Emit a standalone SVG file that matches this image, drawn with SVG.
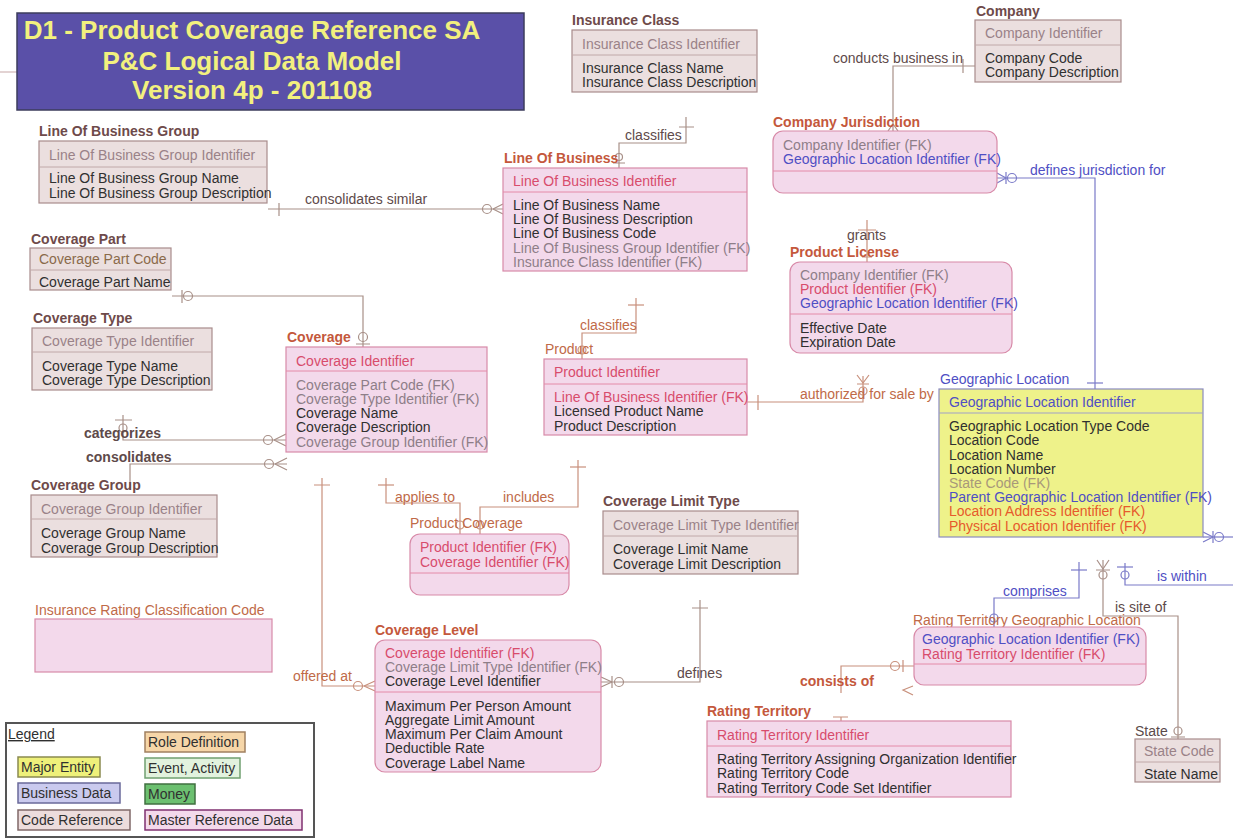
<svg xmlns="http://www.w3.org/2000/svg" width="1233" height="838" viewBox="0 0 1233 838">
<style>
text{font-family:"Liberation Sans",Arial,sans-serif;font-size:14px}
.ttl{font-size:26px;font-weight:bold;fill:#f2f07e}
.cr{fill:#ebdfdf;stroke:#a88c8c;stroke-width:1.2}
.mr{fill:#f3d9eb;stroke:#d88aa8;stroke-width:1.2}
.me{fill:#eef28a;stroke:#8a8ac0;stroke-width:1.2}
.dcr{stroke:#c0a8a8;stroke-width:1}
.dmr{stroke:#e48aa8;stroke-width:1}
.dme{stroke:#a0a0c8;stroke-width:1}
.tcr{fill:#6e4a4a;font-weight:bold}
.tmr{fill:#c4583c;font-weight:bold}
.tmn{fill:#c06a48}
.k{fill:#9a8288}
.a{fill:#303030}
.g{fill:#8e7e88}
.r{fill:#d84c6c}
.b{fill:#4f4fc4}
.o{fill:#e65a2c}
.sc{fill:#a8987a}
.cn{fill:none;stroke:#a89088;stroke-width:1.2}
.cm{fill:none;stroke:#c8907c;stroke-width:1.2}
.cb{fill:none;stroke:#7a7ac8;stroke-width:1.2}
.lb{fill:#5e4a4a}
.lbb{fill:#5e4a4a;font-weight:bold}
.lm{fill:#c06a48}
.lmb{fill:#c4583c;font-weight:bold}
.lbl{fill:#4f4fc4}
.leg{stroke-width:1.5}
.lt{fill:#303030}
</style>

<!-- title block -->
<g id="title">
<line x1="0" y1="72" x2="43" y2="72" stroke="#c8a8a8" stroke-width="1.2"/>
<rect x="17" y="13" width="507" height="97" fill="#5a50a8" stroke="#3c3c5c" stroke-width="1.5"/>
<text class="ttl" x="252" y="39" text-anchor="middle">D1 - Product Coverage Reference SA</text>
<text class="ttl" x="252" y="70" text-anchor="middle">P&amp;C Logical Data Model</text>
<text class="ttl" x="252" y="99" text-anchor="middle">Version 4p - 201108</text>
</g>

<!-- relationships -->
<g id="connectors">
<!-- conducts business in -->
<path class="cn" d="M975,66 H893 V131"/>
<path class="cn" d="M963,59 V73"/>
<path class="cn" d="M888,131 L893,124 L898,131"/>
<text class="lb" x="833" y="63">conducts business in</text>

<!-- defines jurisdiction for -->
<path class="cb" d="M997,178 H1095 V389"/>
<path class="cb" d="M997,173 L1006,178 L997,183 M1006,172 V184"/>
<circle class="cb" cx="1012" cy="178" r="4.5"/>
<path class="cb" d="M1087,383 H1103"/>
<text class="lbl" x="1030" y="175">defines jurisdiction for</text>

<!-- classifies (insurance class) -->
<path class="cn" d="M686,117 V143 H619 V168"/>
<path class="cn" d="M679,127 H694 M613,163 H625"/>
<circle class="cn" cx="619" cy="157" r="3.5"/>
<text class="lb" x="625" y="140">classifies</text>

<!-- consolidates similar -->
<path class="cn" d="M268,209 H503"/>
<path class="cn" d="M279,203 V216 M493,209 L503,204 M493,209 L503,214"/>
<circle class="cn" cx="487" cy="209" r="4.5"/>
<text class="lb" x="305" y="204">consolidates similar</text>

<!-- coverage part to coverage -->
<path class="cn" d="M172,296 H363 V347"/>
<path class="cn" d="M182,290 V303 M356,344 H370"/>
<circle class="cn" cx="188" cy="296" r="4.5"/>
<circle class="cn" cx="363" cy="337" r="4.5"/>

<!-- categorizes -->
<path class="cn" d="M123,415 V440 H286"/>
<path class="cn" d="M115,420 H132 M274,440 L286,434 M274,440 L286,446"/>
<circle class="cn" cx="123" cy="428" r="4"/>
<circle class="cn" cx="268" cy="440" r="4.5"/>
<text class="lbb" x="84" y="438">categorizes</text>

<!-- consolidates -->
<path class="cn" d="M130,490 V464 H287"/>
<path class="cn" d="M275,464 L287,458 M275,464 L287,470"/>
<circle class="cn" cx="269" cy="464" r="4.5"/>
<text class="lbb" x="86" y="462">consolidates</text>

<!-- applies to -->
<path class="cm" d="M386,478 V503 H460 V534"/>
<path class="cm" d="M378,485 H394"/>
<circle class="cm" cx="460" cy="525" r="4"/>
<text class="lm" x="395" y="502">applies to</text>

<!-- includes -->
<path class="cm" d="M578,460 V507 H480 V534"/>
<path class="cm" d="M570,467 H586"/>
<circle class="cm" cx="480" cy="525" r="4"/>
<text class="lm" x="503" y="502">includes</text>

<!-- classifies (line of business) -->
<path class="cm" d="M636,298 V333 H582 V359"/>
<path class="cm" d="M628,305 H644"/>
<circle class="cm" cx="582" cy="350" r="4"/>
<text class="lm" x="580" y="330">classifies</text>

<!-- grants -->
<path class="cm" d="M867,220 V262"/>
<path class="cm" d="M858,230 H876 M862,257 H872"/>
<text class="lb" x="847" y="240">grants</text>

<!-- authorized for sale by -->
<path class="cm" d="M747,402 H863 V376"/>
<path class="cm" d="M758,395 V410 M863,383 L857,375 M863,383 L869,375 M857,384 H869"/>
<circle class="cm" cx="863" cy="391" r="4"/>
<text class="lm" x="800" y="399">authorized for sale by</text>

<!-- is within -->
<path class="cb" d="M1203,537 H1233"/>
<path class="cb" d="M1213,537 L1203,532 M1213,537 L1203,542 M1213,531 V543"/>
<circle class="cb" cx="1219" cy="537" r="4.5"/>
<path class="cb" d="M1233,585 H1125 V563"/>
<path class="cb" d="M1117,567 H1133"/>
<circle class="cb" cx="1125" cy="575" r="4"/>
<text class="lbl" x="1157" y="581">is within</text>

<!-- comprises -->
<path class="cb" d="M1079,562 V598 H994 V627"/>
<path class="cb" d="M1071,570 H1087"/>
<circle class="cb" cx="994" cy="618" r="4"/>
<text class="lbl" x="1003" y="596">comprises</text>

<!-- is site of -->
<path class="cn" d="M1103,560 V616 H1178 V739"/>
<path class="cn" d="M1103,569 L1097,560 M1103,569 L1109,560 M1096,570 H1110 M1171,737 H1185"/>
<circle class="cn" cx="1103" cy="575" r="4"/>
<circle class="cn" cx="1178" cy="731" r="4"/>
<text class="lb" x="1115" y="612">is site of</text>

<!-- consists of -->
<path class="cm" d="M841,693 V666 H914"/>
<path class="cm" d="M903,660 V672 M913,686 L903,690 L913,695"/>
<circle class="cm" cx="895" cy="666" r="4.5"/>
<path class="cm" d="M833,717 H848 M841,717 V721"/>
<text class="lmb" x="800" y="686">consists of</text>

<!-- defines -->
<path class="cn" d="M700,600 V682 H601"/>
<path class="cn" d="M692,608 H708 M612,682 L601,677 M612,682 L601,687 M612,676 V688"/>
<circle class="cn" cx="619" cy="682" r="4.5"/>
<text class="lb" x="677" y="678">defines</text>

<!-- offered at -->
<path class="cm" d="M322,478 V686 H375"/>
<path class="cm" d="M314,485 H330 M364,686 L375,681 M364,686 L375,691"/>
<circle class="cm" cx="358" cy="686" r="4.5"/>
<text class="lm" x="293" y="681">offered at</text>
</g>

<g id="insurance-class">
<text class="tcr" x="572" y="25">Insurance Class</text>
<rect class="cr" x="572" y="30" width="185" height="62"/>
<line class="dcr" x1="572" y1="55" x2="757" y2="55"/>
<text class="k" x="582" y="49">Insurance Class Identifier</text>
<text class="a" x="582" y="73">Insurance Class Name</text>
<text class="a" x="582" y="87">Insurance Class Description</text>
</g>

<g id="company">
<text class="tcr" x="976" y="16">Company</text>
<rect class="cr" x="975" y="20" width="146" height="62"/>
<line class="dcr" x1="975" y1="45" x2="1121" y2="45"/>
<text class="k" x="985" y="38">Company Identifier</text>
<text class="a" x="985" y="63">Company Code</text>
<text class="a" x="985" y="77">Company Description</text>
</g>

<g id="line-of-business-group">
<text class="tcr" x="39" y="136">Line Of Business Group</text>
<rect class="cr" x="39" y="141" width="228" height="62"/>
<line class="dcr" x1="39" y1="167" x2="267" y2="167"/>
<text class="k" x="49" y="160">Line Of Business Group Identifier</text>
<text class="a" x="49" y="183">Line Of Business Group Name</text>
<text class="a" x="49" y="198">Line Of Business Group Description</text>
</g>

<g id="line-of-business">
<text class="tmr" x="504" y="163">Line Of Business</text>
<rect class="mr" x="503" y="168" width="244" height="103"/>
<line class="dmr" x1="503" y1="192" x2="747" y2="192"/>
<text class="r" x="513" y="186">Line Of Business Identifier</text>
<text class="a" x="513" y="210">Line Of Business Name</text>
<text class="a" x="513" y="224">Line Of Business Description</text>
<text class="a" x="513" y="238">Line Of Business Code</text>
<text class="g" x="513" y="253">Line Of Business Group Identifier (FK)</text>
<text class="g" x="513" y="267">Insurance Class Identifier (FK)</text>
</g>

<g id="company-jurisdiction">
<text class="tmr" x="773" y="127">Company Jurisdiction</text>
<rect class="mr" x="773" y="131" width="224" height="62" rx="10"/>
<line class="dmr" x1="773" y1="171" x2="997" y2="171"/>
<text class="g" x="783" y="150">Company Identifier (FK)</text>
<text class="b" x="783" y="164">Geographic Location Identifier (FK)</text>
</g>

<g id="product-license">
<text class="tmr" x="790" y="257">Product License</text>
<rect class="mr" x="790" y="262" width="222" height="91" rx="10"/>
<line class="dmr" x1="790" y1="314" x2="1012" y2="314"/>
<text class="g" x="800" y="280">Company Identifier (FK)</text>
<text class="r" x="800" y="294">Product Identifier (FK)</text>
<text class="b" x="800" y="308">Geographic Location Identifier (FK)</text>
<text class="a" x="800" y="333">Effective Date</text>
<text class="a" x="800" y="347">Expiration Date</text>
</g>

<g id="coverage-part">
<text class="tcr" x="31" y="244">Coverage Part</text>
<rect class="cr" x="30" y="248" width="141" height="42"/>
<line class="dcr" x1="30" y1="270" x2="171" y2="270"/>
<text x="39" y="264" fill="#8a6a4a">Coverage Part Code</text>
<text class="a" x="39" y="287">Coverage Part Name</text>
</g>

<g id="coverage-type">
<text class="tcr" x="33" y="323">Coverage Type</text>
<rect class="cr" x="32" y="328" width="180" height="62"/>
<line class="dcr" x1="32" y1="352" x2="212" y2="352"/>
<text class="k" x="42" y="346">Coverage Type Identifier</text>
<text class="a" x="42" y="371">Coverage Type Name</text>
<text class="a" x="42" y="385">Coverage Type Description</text>
</g>

<g id="coverage">
<text class="tmr" x="287" y="342">Coverage</text>
<rect class="mr" x="286" y="347" width="201" height="105"/>
<line class="dmr" x1="286" y1="371" x2="487" y2="371"/>
<text class="r" x="296" y="366">Coverage Identifier</text>
<text class="g" x="296" y="390">Coverage Part Code (FK)</text>
<text class="g" x="296" y="404">Coverage Type Identifier (FK)</text>
<text class="a" x="296" y="418">Coverage Name</text>
<text class="a" x="296" y="432">Coverage Description</text>
<text class="g" x="296" y="447">Coverage Group Identifier (FK)</text>
</g>

<g id="product">
<text class="tmn" x="545" y="354">Product</text>
<rect class="mr" x="544" y="359" width="203" height="76"/>
<line class="dmr" x1="544" y1="384" x2="747" y2="384"/>
<text class="r" x="554" y="377">Product Identifier</text>
<text class="r" x="554" y="402">Line Of Business Identifier (FK)</text>
<text class="a" x="554" y="416">Licensed Product Name</text>
<text class="a" x="554" y="431">Product Description</text>
</g>

<g id="geographic-location">
<text class="b" x="940" y="384">Geographic Location</text>
<rect class="me" x="939" y="389" width="264" height="148"/>
<line class="dme" x1="939" y1="413" x2="1203" y2="413"/>
<text class="b" x="949" y="407">Geographic Location Identifier</text>
<text class="a" x="949" y="431">Geographic Location Type Code</text>
<text class="a" x="949" y="445">Location Code</text>
<text class="a" x="949" y="460">Location Name</text>
<text class="a" x="949" y="474">Location Number</text>
<text class="sc" x="949" y="488">State Code (FK)</text>
<text class="b" x="949" y="502">Parent Geographic Location Identifier (FK)</text>
<text class="o" x="949" y="516">Location Address Identifier (FK)</text>
<text class="o" x="949" y="531">Physical Location Identifier (FK)</text>
</g>

<g id="coverage-group">
<text class="tcr" x="31" y="490">Coverage Group</text>
<rect class="cr" x="31" y="495" width="186" height="62"/>
<line class="dcr" x1="31" y1="519" x2="217" y2="519"/>
<text class="k" x="41" y="514">Coverage Group Identifier</text>
<text class="a" x="41" y="538">Coverage Group Name</text>
<text class="a" x="41" y="553">Coverage Group Description</text>
</g>

<g id="product-coverage">
<text class="tmn" x="410" y="528">Product Coverage</text>
<rect class="mr" x="410" y="534" width="159" height="61" rx="10"/>
<line class="dmr" x1="410" y1="573" x2="569" y2="573"/>
<text class="r" x="420" y="552">Product Identifier (FK)</text>
<text class="r" x="420" y="567">Coverage Identifier (FK)</text>
</g>

<g id="coverage-limit-type">
<text class="tcr" x="603" y="506">Coverage Limit Type</text>
<rect class="cr" x="603" y="511" width="195" height="63"/>
<line class="dcr" x1="603" y1="536" x2="798" y2="536"/>
<text class="k" x="613" y="530">Coverage Limit Type Identifier</text>
<text class="a" x="613" y="554">Coverage Limit Name</text>
<text class="a" x="613" y="569">Coverage Limit Description</text>
</g>

<g id="insurance-rating-classification-code">
<text class="tmn" x="35" y="615">Insurance Rating Classification Code</text>
<rect class="mr" x="35" y="619" width="237" height="53"/>
</g>

<g id="coverage-level">
<text class="tmr" x="375" y="635">Coverage Level</text>
<rect class="mr" x="375" y="640" width="226" height="132" rx="10"/>
<line class="dmr" x1="375" y1="692" x2="601" y2="692"/>
<text class="r" x="385" y="658">Coverage Identifier (FK)</text>
<text class="g" x="385" y="672">Coverage Limit Type Identifier (FK)</text>
<text class="a" x="385" y="686">Coverage Level Identifier</text>
<text class="a" x="385" y="711">Maximum Per Person Amount</text>
<text class="a" x="385" y="725">Aggregate Limit Amount</text>
<text class="a" x="385" y="739">Maximum Per Claim Amount</text>
<text class="a" x="385" y="753">Deductible Rate</text>
<text class="a" x="385" y="768">Coverage Label Name</text>
</g>

<g id="rating-territory">
<text class="tmr" x="707" y="716">Rating Territory</text>
<rect class="mr" x="707" y="721" width="304" height="76"/>
<line class="dmr" x1="707" y1="746" x2="1011" y2="746"/>
<text class="r" x="717" y="740">Rating Territory Identifier</text>
<text class="a" x="717" y="764">Rating Territory Assigning Organization Identifier</text>
<text class="a" x="717" y="778">Rating Territory Code</text>
<text class="a" x="717" y="793">Rating Territory Code Set Identifier</text>
</g>

<g id="rating-territory-geographic-location">
<text class="tmn" x="913" y="625">Rating Territory Geographic Location</text>
<rect class="mr" x="914" y="627" width="232" height="58" rx="10"/>
<line class="dmr" x1="914" y1="664" x2="1146" y2="664"/>
<text class="b" x="922" y="644">Geographic Location Identifier (FK)</text>
<text class="r" x="922" y="659">Rating Territory Identifier (FK)</text>
</g>

<g id="state">
<text x="1135" y="736" fill="#5a4a4a">State</text>
<rect class="cr" x="1135" y="739" width="85" height="43"/>
<line class="dcr" x1="1135" y1="762" x2="1220" y2="762"/>
<text class="k" x="1144" y="756">State Code</text>
<text class="a" x="1144" y="779">State Name</text>
</g>

<g id="legend">
<rect x="6" y="723" width="308" height="114" fill="#fff" stroke="#555" stroke-width="2"/>
<text class="lt" x="8" y="739" text-decoration="underline">Legend</text>
<rect class="leg" x="145" y="732" width="100" height="20" fill="#f6d6a8" stroke="#a08060"/>
<text class="lt" x="148" y="747">Role Definition</text>
<rect class="leg" x="18" y="757" width="82" height="20" fill="#eef07a" stroke="#8a8a50"/>
<text class="lt" x="21" y="772">Major Entity</text>
<rect class="leg" x="145" y="758" width="95" height="20" fill="#e2f2de" stroke="#70a070"/>
<text class="lt" x="148" y="773">Event, Activity</text>
<rect class="leg" x="18" y="783" width="102" height="20" fill="#cacaee" stroke="#6a6a9a"/>
<text class="lt" x="21" y="798">Business Data</text>
<rect class="leg" x="145" y="784" width="50" height="20" fill="#6cc070" stroke="#407040"/>
<text class="lt" x="148" y="799">Money</text>
<rect class="leg" x="18" y="810" width="112" height="20" fill="#ecdcdc" stroke="#806868"/>
<text class="lt" x="21" y="825">Code Reference</text>
<rect class="leg" x="145" y="810" width="157" height="20" fill="#f3d9eb" stroke="#803070"/>
<text class="lt" x="148" y="825">Master Reference Data</text>
</g>
</svg>
